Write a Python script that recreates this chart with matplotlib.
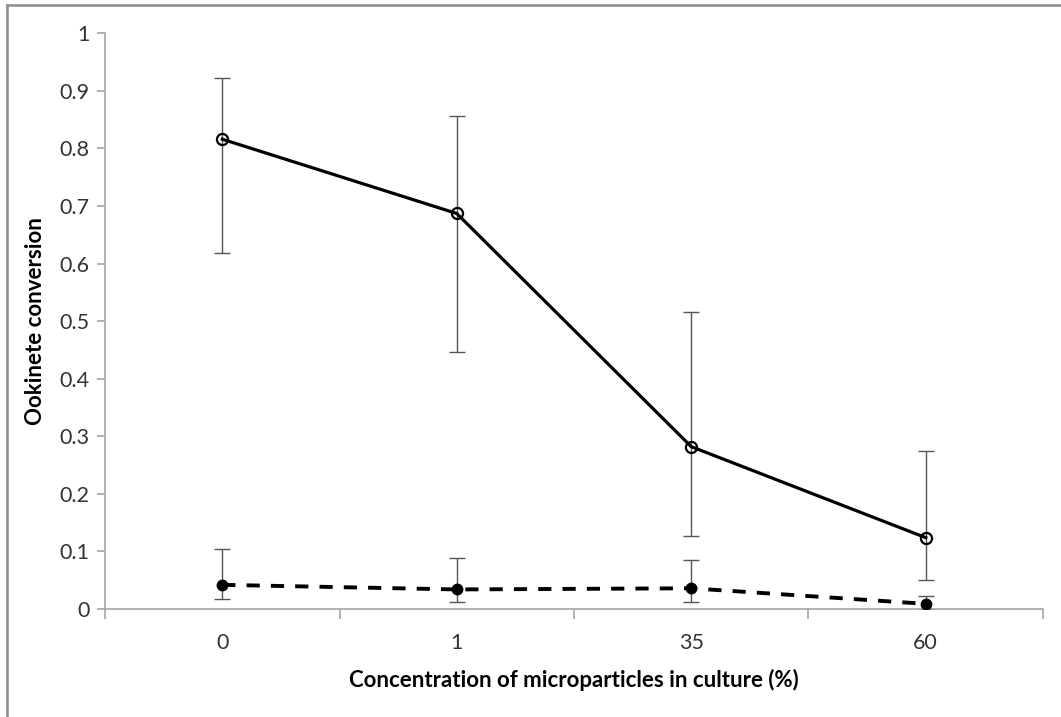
import numpy as np
import matplotlib.pyplot as plt

plt.rcParams['font.family'] = ['Lato', 'DejaVu Sans']
plt.rcParams['lines.scale_dashes'] = False

categories = ['0', '1', '35', '60']

# open circles, solid line
conv_open = [0.816, 0.687, 0.282, 0.124]
open_hi = [0.923, 0.857, 0.516, 0.274]
open_lo = [0.618, 0.447, 0.127, 0.050]

# filled circles, dashed line
conv_fill = [0.042, 0.034, 0.036, 0.009]
fill_hi = [0.104, 0.088, 0.085, 0.023]
fill_lo = [0.017, 0.013, 0.013, 0.0]

x = np.arange(len(categories))

fig = plt.figure(figsize=(10.61, 7.17), dpi=100)
ax = fig.add_axes([0.099, 0.1506, 0.884, 0.803])

err_kw = dict(fmt='none', ecolor='#555555', elinewidth=1.0, capsize=5.5, capthick=1.0, zorder=2)

o = np.array(conv_open)
ax.errorbar(x, o, yerr=[o - np.array(open_lo), np.array(open_hi) - o], **err_kw)
ax.plot(x, o, color='black', lw=2.3, marker='o', ms=8, mfc='none', mec='black', mew=1.6, zorder=3)

f = np.array(conv_fill)
ax.errorbar(x, f, yerr=[f - np.array(fill_lo), np.array(fill_hi) - f], **err_kw)
ax.plot(x, f, color='black', lw=2.8, dashes=(9.5, 8), marker='o', ms=7.5, mfc='black', mec='black', zorder=3)

ax.set_xlim(-0.5, 3.5)
ax.set_ylim(0, 1)
ax.set_yticks(np.arange(0, 1.01, 0.1))
ax.set_yticklabels(['0', '0.1', '0.2', '0.3', '0.4', '0.5', '0.6', '0.7', '0.8', '0.9', '1'])
ax.set_xticks(x)
ax.set_xticklabels(categories)
ax.set_xticks(np.arange(-0.5, 3.6, 1), minor=True)

for s in ['top', 'right']:
    ax.spines[s].set_visible(False)
for s in ['left', 'bottom']:
    ax.spines[s].set_color('#a6a6a6')
    ax.spines[s].set_linewidth(1.2)

ax.tick_params(axis='y', colors='#a6a6a6', labelcolor='#333333', labelsize=15.5, length=6, width=1.2, pad=5)
ax.tick_params(axis='x', which='major', length=0, labelsize=15.5, labelcolor='#333333', pad=17)
ax.tick_params(axis='x', which='minor', length=7, width=1.2, color='#a6a6a6')

ax.set_xlabel('Concentration of microparticles in culture (%)', fontsize=16, fontweight='bold', labelpad=12)
ax.set_ylabel('Ookinete conversion', fontsize=16, fontweight='bold', labelpad=10)

# grey frame around the figure
fig.add_artist(plt.Line2D([7 / 1061, 7 / 1061], [0, 1 - 5 / 717], transform=fig.transFigure, color='#8c8c8c', lw=1.8))
fig.add_artist(plt.Line2D([7 / 1061, 1], [1 - 5 / 717, 1 - 5 / 717], transform=fig.transFigure, color='#8c8c8c', lw=1.8))

fig.savefig('out.png', dpi=100)
